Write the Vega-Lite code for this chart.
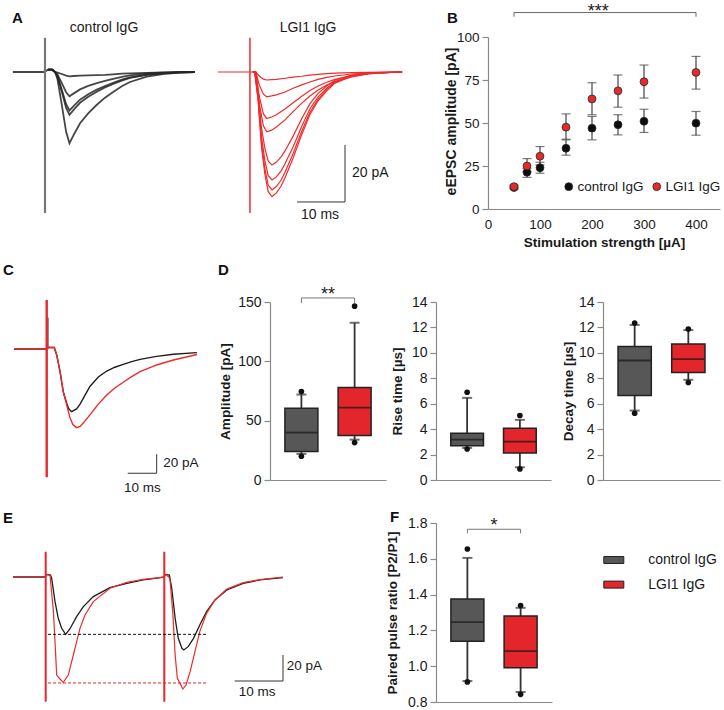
{
"$schema": "https://vega.github.io/schema/vega-lite/v6.json",
"padding": {"left": 0, "top": 3, "right": 0, "bottom": 0},
"config": {
  "font": "Liberation Sans",
  "view": {"stroke": null},
  "axis": {"grid": false, "domainColor": "#8a8a8a", "tickColor": "#8a8a8a", "labelColor": "#1a1a1a", "titleColor": "#1a1a1a", "labelFontSize": 14, "titleFontSize": 13.5, "titleFontWeight": "bold", "domainWidth": 1.2, "tickWidth": 1.2, "labelOverlap": false}
},
"columns": 6,
"spacing": 0,
"align": "each",
"bounds": "flush",
"resolve": {"scale": {"color": "independent"}, "legend": {"color": "independent"}},
"datasets": {
  "aCtrl": [
    {"k":1,"t":-6.7,"v":0},{"k":1,"t":-0.1,"v":0},{"k":1,"t":0.6,"v":0.8},{"k":1,"t":1.5,"v":0.8},{"k":1,"t":2.1,"v":0},{"k":1,"t":2.6,"v":-2.5},{"k":1,"t":3.5,"v":-11.5},{"k":1,"t":4.4,"v":-21},{"k":1,"t":5.1,"v":-25},{"k":1,"t":6.0,"v":-22},{"k":1,"t":7.3,"v":-18},{"k":1,"t":9.0,"v":-14.5},{"k":1,"t":10.8,"v":-11.5},{"k":1,"t":12.5,"v":-9},{"k":1,"t":14.2,"v":-7},{"k":1,"t":16.0,"v":-5},{"k":1,"t":17.7,"v":-3.5},{"k":1,"t":21.2,"v":-1.6},{"k":1,"t":24.6,"v":-0.7},{"k":1,"t":28.0,"v":-0.25},{"k":1,"t":31.25,"v":0},
    {"k":2,"t":0.6,"v":0.8},{"k":2,"t":1.5,"v":0.8},{"k":2,"t":2.1,"v":0},{"k":2,"t":2.6,"v":-1.5},{"k":2,"t":3.5,"v":-6.9},{"k":2,"t":4.4,"v":-12.6},{"k":2,"t":5.1,"v":-15},{"k":2,"t":6.0,"v":-13.2},{"k":2,"t":7.3,"v":-10.8},{"k":2,"t":9.0,"v":-8.7},{"k":2,"t":10.8,"v":-6.9},{"k":2,"t":12.5,"v":-5.4},{"k":2,"t":14.2,"v":-4.2},{"k":2,"t":16.0,"v":-3},{"k":2,"t":17.7,"v":-2.1},{"k":2,"t":21.2,"v":-1},{"k":2,"t":24.6,"v":-0.4},{"k":2,"t":28.0,"v":-0.15},{"k":2,"t":31.25,"v":0},
    {"k":3,"t":0.6,"v":0.8},{"k":3,"t":1.5,"v":0.8},{"k":3,"t":2.1,"v":0},{"k":3,"t":2.6,"v":-1.4},{"k":3,"t":3.5,"v":-6.2},{"k":3,"t":4.4,"v":-11.3},{"k":3,"t":5.1,"v":-13.5},{"k":3,"t":6.0,"v":-11.9},{"k":3,"t":7.3,"v":-9.7},{"k":3,"t":9.0,"v":-7.8},{"k":3,"t":10.8,"v":-6.2},{"k":3,"t":12.5,"v":-4.9},{"k":3,"t":14.2,"v":-3.8},{"k":3,"t":16.0,"v":-2.7},{"k":3,"t":17.7,"v":-1.9},{"k":3,"t":21.2,"v":-0.9},{"k":3,"t":24.6,"v":-0.4},{"k":3,"t":28.0,"v":-0.1},{"k":3,"t":31.25,"v":0},
    {"k":4,"t":0.6,"v":0.8},{"k":4,"t":1.5,"v":0.8},{"k":4,"t":2.1,"v":0},{"k":4,"t":2.6,"v":-0.9},{"k":4,"t":3.5,"v":-3.9},{"k":4,"t":4.4,"v":-7.1},{"k":4,"t":5.1,"v":-8.5},{"k":4,"t":6.0,"v":-7.5},{"k":4,"t":7.3,"v":-6.1},{"k":4,"t":9.0,"v":-4.9},{"k":4,"t":10.8,"v":-3.9},{"k":4,"t":12.5,"v":-3.1},{"k":4,"t":14.2,"v":-2.4},{"k":4,"t":16.0,"v":-1.7},{"k":4,"t":17.7,"v":-1.2},{"k":4,"t":21.2,"v":-0.5},{"k":4,"t":24.6,"v":-0.2},{"k":4,"t":28.0,"v":-0.1},{"k":4,"t":31.25,"v":0},
    {"k":5,"t":0.6,"v":0.8},{"k":5,"t":1.5,"v":0.8},{"k":5,"t":2.1,"v":0},{"k":5,"t":2.6,"v":-0.2},{"k":5,"t":3.5,"v":-0.7},{"k":5,"t":4.4,"v":-1.3},{"k":5,"t":5.1,"v":-1.5},{"k":5,"t":6.0,"v":-1.4},{"k":5,"t":7.3,"v":-1.3},{"k":5,"t":9.0,"v":-1.2},{"k":5,"t":10.8,"v":-1.1},{"k":5,"t":12.5,"v":-1},{"k":5,"t":14.2,"v":-0.8},{"k":5,"t":16.0,"v":-0.6},{"k":5,"t":17.7,"v":-0.5},{"k":5,"t":21.2,"v":-0.3},{"k":5,"t":24.6,"v":-0.1},{"k":5,"t":28.0,"v":0},{"k":5,"t":31.25,"v":0}
  ],
  "aLgi": [
    {"k":1,"t":36.0,"v":0},{"k":1,"t":42.6,"v":0},{"k":1,"t":43.3,"v":0},{"k":1,"t":43.9,"v":0},{"k":1,"t":44.7,"v":-1.5},{"k":1,"t":45.5,"v":-2.5},{"k":1,"t":46.2,"v":-2.8},{"k":1,"t":47.2,"v":-2.7},{"k":1,"t":48.2,"v":-2.6},{"k":1,"t":50.0,"v":-2.2},{"k":1,"t":51.7,"v":-1.8},{"k":1,"t":53.5,"v":-1.5},{"k":1,"t":55.2,"v":-1.1},{"k":1,"t":56.9,"v":-0.8},{"k":1,"t":58.7,"v":-0.6},{"k":1,"t":60.4,"v":-0.4},{"k":1,"t":63.9,"v":-0.2},{"k":1,"t":67.4,"v":-0.1},{"k":1,"t":70.7,"v":0},{"k":1,"t":74.4,"v":0},
    {"k":2,"t":43.3,"v":0},{"k":2,"t":43.9,"v":0},{"k":2,"t":44.7,"v":-4.8},{"k":2,"t":45.5,"v":-7.8},{"k":2,"t":46.2,"v":-8.7},{"k":2,"t":47.2,"v":-8.4},{"k":2,"t":48.2,"v":-8.0},{"k":2,"t":50.0,"v":-7.0},{"k":2,"t":51.7,"v":-5.7},{"k":2,"t":53.5,"v":-4.5},{"k":2,"t":55.2,"v":-3.5},{"k":2,"t":56.9,"v":-2.6},{"k":2,"t":58.7,"v":-1.9},{"k":2,"t":60.4,"v":-1.4},{"k":2,"t":63.9,"v":-0.7},{"k":2,"t":67.4,"v":-0.3},{"k":2,"t":70.7,"v":-0.1},{"k":2,"t":74.4,"v":0},
    {"k":3,"t":43.3,"v":0},{"k":3,"t":43.9,"v":0},{"k":3,"t":44.7,"v":-9.0},{"k":3,"t":45.5,"v":-14.7},{"k":3,"t":46.2,"v":-16.3},{"k":3,"t":47.2,"v":-15.8},{"k":3,"t":48.2,"v":-15.0},{"k":3,"t":50.0,"v":-13.0},{"k":3,"t":51.7,"v":-10.8},{"k":3,"t":53.5,"v":-8.5},{"k":3,"t":55.2,"v":-6.5},{"k":3,"t":56.9,"v":-4.9},{"k":3,"t":58.7,"v":-3.6},{"k":3,"t":60.4,"v":-2.6},{"k":3,"t":63.9,"v":-1.3},{"k":3,"t":67.4,"v":-0.6},{"k":3,"t":70.7,"v":-0.2},{"k":3,"t":74.4,"v":0},
    {"k":4,"t":43.3,"v":0},{"k":4,"t":43.9,"v":0},{"k":4,"t":44.7,"v":-11.6},{"k":4,"t":45.5,"v":-18.9},{"k":4,"t":46.2,"v":-21},{"k":4,"t":47.2,"v":-20.4},{"k":4,"t":48.2,"v":-19.3},{"k":4,"t":50.0,"v":-16.8},{"k":4,"t":51.7,"v":-13.9},{"k":4,"t":53.5,"v":-10.9},{"k":4,"t":55.2,"v":-8.4},{"k":4,"t":56.9,"v":-6.3},{"k":4,"t":58.7,"v":-4.6},{"k":4,"t":60.4,"v":-3.4},{"k":4,"t":63.9,"v":-1.7},{"k":4,"t":67.4,"v":-0.7},{"k":4,"t":70.7,"v":-0.2},{"k":4,"t":74.4,"v":0},
    {"k":5,"t":43.3,"v":0},{"k":5,"t":43.7,"v":0},{"k":5,"t":44.4,"v":-7.5},{"k":5,"t":45.1,"v":-19.6},{"k":5,"t":45.8,"v":-26.7},{"k":5,"t":46.5,"v":-31.3},{"k":5,"t":47.3,"v":-32.6},{"k":5,"t":48.2,"v":-31.6},{"k":5,"t":49.2,"v":-29.8},{"k":5,"t":50.0,"v":-27.7},{"k":5,"t":51.7,"v":-22.5},{"k":5,"t":53.5,"v":-16.3},{"k":5,"t":55.2,"v":-11.1},{"k":5,"t":56.9,"v":-7.5},{"k":5,"t":58.7,"v":-4.9},{"k":5,"t":60.4,"v":-2.9},{"k":5,"t":63.9,"v":-1.1},{"k":5,"t":67.4,"v":-0.4},{"k":5,"t":74.4,"v":0},
    {"k":6,"t":43.3,"v":0},{"k":6,"t":43.7,"v":0},{"k":6,"t":44.4,"v":-8.7},{"k":6,"t":45.1,"v":-22.7},{"k":6,"t":45.8,"v":-31.1},{"k":6,"t":46.5,"v":-36.4},{"k":6,"t":47.3,"v":-37.9},{"k":6,"t":48.2,"v":-36.8},{"k":6,"t":49.2,"v":-34.7},{"k":6,"t":50.0,"v":-32.2},{"k":6,"t":51.7,"v":-26.2},{"k":6,"t":53.5,"v":-19.0},{"k":6,"t":55.2,"v":-12.9},{"k":6,"t":56.9,"v":-8.7},{"k":6,"t":58.7,"v":-5.7},{"k":6,"t":60.4,"v":-3.4},{"k":6,"t":63.9,"v":-1.3},{"k":6,"t":67.4,"v":-0.4},{"k":6,"t":74.4,"v":0},
    {"k":7,"t":43.3,"v":0},{"k":7,"t":43.7,"v":0},{"k":7,"t":44.4,"v":-9.5},{"k":7,"t":45.1,"v":-24.8},{"k":7,"t":45.8,"v":-33.9},{"k":7,"t":46.5,"v":-39.7},{"k":7,"t":47.3,"v":-41.4},{"k":7,"t":48.2,"v":-40.2},{"k":7,"t":49.2,"v":-37.9},{"k":7,"t":50.0,"v":-35.2},{"k":7,"t":51.7,"v":-28.6},{"k":7,"t":53.5,"v":-20.7},{"k":7,"t":55.2,"v":-14.1},{"k":7,"t":56.9,"v":-9.5},{"k":7,"t":58.7,"v":-6.2},{"k":7,"t":60.4,"v":-3.7},{"k":7,"t":63.9,"v":-1.4},{"k":7,"t":67.4,"v":-0.5},{"k":7,"t":74.4,"v":0},
    {"k":8,"t":43.3,"v":0},{"k":8,"t":43.7,"v":0},{"k":8,"t":44.4,"v":-10.1},{"k":8,"t":45.1,"v":-26.2},{"k":8,"t":45.8,"v":-35.8},{"k":8,"t":46.5,"v":-42.0},{"k":8,"t":47.3,"v":-43.7},{"k":8,"t":48.2,"v":-42.4},{"k":8,"t":49.2,"v":-40.0},{"k":8,"t":50.0,"v":-37.1},{"k":8,"t":51.7,"v":-30.2},{"k":8,"t":53.5,"v":-21.9},{"k":8,"t":55.2,"v":-14.9},{"k":8,"t":56.9,"v":-10.1},{"k":8,"t":58.7,"v":-6.6},{"k":8,"t":60.4,"v":-3.9},{"k":8,"t":63.9,"v":-1.5},{"k":8,"t":67.4,"v":-0.5},{"k":8,"t":74.4,"v":0}
  ],
  "cBlk": [
    {"t":-11.3,"v":0},{"t":-0.1,"v":0},{"t":0.5,"v":1.5},{"t":2.6,"v":1.5},{"t":3.45,"v":-6.3},{"t":4.6,"v":-23.9},{"t":5.7,"v":-44.9},{"t":6.9,"v":-57},{"t":7.6,"v":-63},{"t":8.6,"v":-66},{"t":10.3,"v":-63},{"t":11.5,"v":-58},{"t":12.6,"v":-52},{"t":14.9,"v":-39.5},{"t":17.8,"v":-29.5},{"t":20.7,"v":-23.2},{"t":23.5,"v":-19.2},{"t":26.4,"v":-16.1},{"t":29.3,"v":-13.3},{"t":32.2,"v":-10.9},{"t":37.9,"v":-7.8},{"t":43.7,"v":-5.6},{"t":51.8,"v":-3.8}
  ],
  "cRed": [
    {"t":-11.3,"v":0},{"t":-0.1,"v":0},{"t":0.5,"v":1.5},{"t":2.6,"v":1.5},{"t":3.45,"v":-6.3},{"t":4.6,"v":-23.9},{"t":5.7,"v":-44.9},{"t":6.9,"v":-59},{"t":8.0,"v":-72},{"t":9.0,"v":-79.5},{"t":10.3,"v":-82.8},{"t":11.5,"v":-81.5},{"t":12.6,"v":-78},{"t":14.9,"v":-69.4},{"t":17.8,"v":-58},{"t":20.7,"v":-48.4},{"t":23.5,"v":-41},{"t":26.4,"v":-35},{"t":29.3,"v":-29},{"t":32.2,"v":-23.9},{"t":37.9,"v":-16.8},{"t":43.7,"v":-11.6},{"t":51.8,"v":-5.8}
  ],
  "eBlk": [
    {"t":-6.77,"v":0},{"t":-0.1,"v":0},{"t":0.3,"v":2},{"t":1.0,"v":1.5},{"t":1.24,"v":-1},{"t":1.93,"v":-19.2},{"t":2.6,"v":-32.2},{"t":3.3,"v":-40},{"t":4.14,"v":-44.7},{"t":5.0,"v":-40.5},{"t":6.4,"v":-30.9},{"t":7.8,"v":-23.1},{"t":9.86,"v":-15.3},{"t":13.3,"v":-8.3},{"t":16.8,"v":-4.9},{"t":20.2,"v":-2.3},{"t":23.5,"v":-0.6},{"t":24.45,"v":0},{"t":24.9,"v":2},{"t":25.6,"v":1.5},{"t":26.1,"v":-8.8},{"t":26.8,"v":-32.2},{"t":27.45,"v":-47.8},{"t":28.2,"v":-55.6},{"t":28.6,"v":-56.9},{"t":29.5,"v":-54.3},{"t":30.6,"v":-47.8},{"t":31.9,"v":-37.4},{"t":33.3,"v":-27},{"t":35.05,"v":-17.9},{"t":37.5,"v":-10.1},{"t":40.9,"v":-4.9},{"t":44.4,"v":-2.3},{"t":49.1,"v":-0.5}
  ],
  "eRed": [
    {"t":-6.77,"v":0},{"t":-0.1,"v":0},{"t":0.3,"v":2},{"t":0.9,"v":1},{"t":1.6,"v":-27},{"t":2.07,"v":-60.8},{"t":2.27,"v":-76.4},{"t":2.96,"v":-79.5},{"t":3.65,"v":-82.1},{"t":4.68,"v":-76.4},{"t":5.72,"v":-60.8},{"t":6.41,"v":-50.4},{"t":7.1,"v":-40},{"t":8.13,"v":-29.6},{"t":9.86,"v":-19.2},{"t":13.3,"v":-8.8},{"t":16.8,"v":-4.1},{"t":20.2,"v":-1.8},{"t":23.5,"v":-0.5},{"t":24.45,"v":0},{"t":24.9,"v":2},{"t":25.7,"v":-1},{"t":26.3,"v":-27},{"t":26.8,"v":-60.8},{"t":27.25,"v":-79},{"t":27.8,"v":-82.9},{"t":28.4,"v":-87.3},{"t":29.05,"v":-84.2},{"t":29.9,"v":-73.8},{"t":30.9,"v":-58.2},{"t":31.9,"v":-42.6},{"t":33.3,"v":-28.3},{"t":35.05,"v":-17.9},{"t":37.5,"v":-9.4},{"t":40.9,"v":-4.4},{"t":44.4,"v":-2},{"t":49.1,"v":0}
  ],
  "bData": [
    {"s":50,"g":"control IgG","m":12.5,"lo":11.5,"hi":13.5},
    {"s":75,"g":"control IgG","m":21.4,"lo":18.4,"hi":23.7},
    {"s":100,"g":"control IgG","m":24,"lo":20.8,"hi":27.2},
    {"s":150,"g":"control IgG","m":35.3,"lo":31.3,"hi":40.2},
    {"s":200,"g":"control IgG","m":47,"lo":40.2,"hi":53.8},
    {"s":250,"g":"control IgG","m":49,"lo":43.1,"hi":54.8},
    {"s":300,"g":"control IgG","m":51,"lo":44.5,"hi":58},
    {"s":400,"g":"control IgG","m":49.9,"lo":42.9,"hi":56.7},
    {"s":50,"g":"LGI1 IgG","m":13,"lo":12,"hi":14},
    {"s":75,"g":"LGI1 IgG","m":25,"lo":21.7,"hi":29.3},
    {"s":100,"g":"LGI1 IgG","m":30.7,"lo":25.6,"hi":36.3},
    {"s":150,"g":"LGI1 IgG","m":47.6,"lo":40.6,"hi":55.3},
    {"s":200,"g":"LGI1 IgG","m":64,"lo":54.8,"hi":73.4},
    {"s":250,"g":"LGI1 IgG","m":68.7,"lo":59.2,"hi":77.9},
    {"s":300,"g":"LGI1 IgG","m":74,"lo":64.5,"hi":83.7},
    {"s":400,"g":"LGI1 IgG","m":79.4,"lo":69.7,"hi":88.7}
  ],
  "boxAmp": [
    {"grp":"control IgG","mn":20,"lo":22,"q1":24,"md":40,"q3":60.5,"hi":72,"mx":74.5},
    {"grp":"LGI1 IgG","mn":31.5,"lo":34,"q1":37.5,"md":61,"q3":78,"hi":132.5,"mx":146.5}
  ],
  "boxRise": [
    {"grp":"control IgG","mn":2.44,"lo":2.52,"q1":2.7,"md":3.18,"q3":3.68,"hi":6.46,"mx":6.9},
    {"grp":"LGI1 IgG","mn":0.87,"lo":1.0,"q1":2.13,"md":3.02,"q3":4.07,"hi":4.73,"mx":5.07}
  ],
  "boxDecay": [
    {"grp":"control IgG","mn":5.25,"lo":5.46,"q1":6.65,"md":9.4,"q3":10.5,"hi":12.2,"mx":12.35},
    {"grp":"LGI1 IgG","mn":7.67,"lo":7.88,"q1":8.46,"md":9.5,"q3":10.7,"hi":11.8,"mx":11.87}
  ],
  "boxPPR": [
    {"grp":"control IgG","mn":0.912,"lo":0.917,"q1":1.14,"md":1.246,"q3":1.376,"hi":1.605,"mx":1.655},
    {"grp":"LGI1 IgG","mn":0.843,"lo":0.856,"q1":0.991,"md":1.084,"q3":1.28,"hi":1.326,"mx":1.339}
  ]
},
"concat": [
  {
    "width": 270, "height": 265,
    "encoding": {
      "x": {"field": "t", "type": "quantitative", "scale": {"domain": [-9.375, 46.875], "nice": false, "zero": false}, "axis": null},
      "y": {"field": "v", "type": "quantitative", "scale": {"domain": [-80.7, 12.28], "nice": false, "zero": false}, "axis": null}
    },
    "layer": [
      {"data": {"name": "aCtrl"}, "mark": {"type": "line", "color": "#262626", "strokeWidth": 1.8, "opacity": 0.85}, "encoding": {"detail": {"field": "k", "type": "nominal"}}},
      {"data": {"name": "aLgi"}, "mark": {"type": "line", "color": "#ef2b2b", "strokeWidth": 1.2}, "encoding": {"detail": {"field": "k", "type": "nominal"}}},
      {"data": {"values": [{"t": 0, "v": 12, "v2": -49.5}]}, "mark": {"type": "rule", "color": "#777777", "strokeWidth": 2.2}, "encoding": {"y2": {"field": "v2"}}},
      {"data": {"values": [{"t": 42.7, "v": 12, "v2": -49.5}]}, "mark": {"type": "rule", "color": "#ef2b2b", "strokeWidth": 1.5}, "encoding": {"y2": {"field": "v2"}}},
      {"data": {"values": [{"t": 52.5, "t2": 62.5, "v": -45.6, "v2": -45.6}, {"t": 62.5, "t2": 62.5, "v": -25.6, "v2": -45.6}]}, "mark": {"type": "rule", "color": "#333333", "strokeWidth": 1}, "encoding": {"x2": {"field": "t2"}, "y2": {"field": "v2"}}},
      {"data": {"values": [{"t": 12.3, "v": 15.44, "s": "control IgG"}, {"t": 54.8, "v": 15.44, "s": "LGI1 IgG"}, {"t": 57.29, "v": -50.18, "s": "10 ms"}]}, "mark": {"type": "text", "fontSize": 14, "align": "center", "baseline": "middle", "color": "#1a1a1a"}, "encoding": {"text": {"field": "s"}}},
      {"data": {"values": [{"t": 63.96, "v": -35.44, "s": "20 pA"}]}, "mark": {"type": "text", "fontSize": 14, "align": "left", "baseline": "middle", "color": "#1a1a1a"}, "encoding": {"text": {"field": "s"}}},
      {"data": {"values": [{"t": -6.875, "v": 17.19, "s": "A"}, {"t": 83.75, "v": 17.19, "s": "B"}]}, "mark": {"type": "text", "fontSize": 15, "fontWeight": "bold", "align": "left", "baseline": "alphabetic", "color": "#111111"}, "encoding": {"text": {"field": "s"}}}
    ]
  },
  {"width": 1, "height": 1, "data": {"values": [{"a": 0}]}, "mark": "text", "encoding": {"text": {"value": ""}}},
  {"width": 1, "height": 1, "data": {"values": [{"a": 0}]}, "mark": "text", "encoding": {"text": {"value": ""}}},
  {
    "width": 116, "height": 172,
    "layer": [
      {"data": {"name": "bData"}, "mark": {"type": "rule", "color": "#444444", "strokeWidth": 1.2},
       "encoding": {
         "x": {"field": "s", "type": "quantitative", "title": "Stimulation strength [µA]", "scale": {"domain": [0, 446.15], "range": [52, 284], "nice": false, "zero": true}, "axis": {"values": [0, 100, 200, 300, 400], "tickCount": 20, "format": "d", "ticks": false, "labelPadding": 8, "labelFlush": false, "labelFontSize": 13.5, "titleX": 168, "titleY": 33, "titleBaseline": "middle", "titleAlign": "center"}},
         "y": {"field": "lo", "type": "quantitative", "title": "eEPSC amplitude [pA]", "scale": {"domain": [0, 100], "nice": false}, "axis": {"offset": -52, "values": [0, 25, 50, 75, 100], "tickCount": 20, "format": "d", "tickSize": 6, "labelPadding": 3, "labelFontSize": 13.5, "titleFontSize": 14, "titleAngle": 270, "titleX": -36.3, "titleY": 84, "titleAlign": "center", "titleBaseline": "middle"}},
         "y2": {"field": "hi"}
       }},
      {"data": {"name": "bData"}, "mark": {"type": "tick", "orient": "horizontal", "size": 9, "thickness": 1.2, "color": "#444444"},
       "encoding": {"x": {"field": "s", "type": "quantitative", "title": "Stimulation strength [µA]"}, "y": {"field": "lo", "type": "quantitative", "title": "eEPSC amplitude [pA]"}}},
      {"data": {"name": "bData"}, "mark": {"type": "tick", "orient": "horizontal", "size": 9, "thickness": 1.2, "color": "#444444"},
       "encoding": {"x": {"field": "s", "type": "quantitative", "title": "Stimulation strength [µA]"}, "y": {"field": "hi", "type": "quantitative", "title": "eEPSC amplitude [pA]"}}},
      {"data": {"name": "bData"}, "mark": {"type": "point", "filled": true, "size": 62, "stroke": "#2a2a2a", "strokeWidth": 0.8, "opacity": 1},
       "encoding": {
         "x": {"field": "s", "type": "quantitative", "title": "Stimulation strength [µA]"},
         "y": {"field": "m", "type": "quantitative", "title": "eEPSC amplitude [pA]"},
         "color": {"field": "g", "type": "nominal", "scale": {"domain": ["control IgG", "LGI1 IgG"], "range": ["#0d0d0d", "#e32b2e"]},
           "legend": {"orient": "none", "legendX": 126, "legendY": 142.5, "direction": "horizontal", "title": null, "labelFontSize": 13.5, "symbolSize": 62, "labelOffset": 2, "columnPadding": 6, "symbolStrokeColor": "#2a2a2a", "symbolStrokeWidth": 0.8, "labelColor": "#1a1a1a"}}
       }},
      {"data": {"values": [{"s": 50, "v": 111.8, "o": 1}, {"s": 50, "v": 114.2, "o": 2}, {"s": 400, "v": 114.2, "o": 3}, {"s": 400, "v": 111.8, "o": 4}]}, "mark": {"type": "line", "color": "#666666", "strokeWidth": 1},
       "encoding": {"x": {"field": "s", "type": "quantitative", "title": "Stimulation strength [µA]"}, "y": {"field": "v", "type": "quantitative", "title": "eEPSC amplitude [pA]"}, "order": {"field": "o"}}},
      {"data": {"values": [{"s": 212, "v": 111.6, "txt": "***"}]}, "mark": {"type": "text", "fontSize": 18, "align": "center", "baseline": "alphabetic", "color": "#1a1a1a"},
       "encoding": {"x": {"field": "s", "type": "quantitative", "title": "Stimulation strength [µA]"}, "y": {"field": "v", "type": "quantitative", "title": "eEPSC amplitude [pA]"}, "text": {"field": "txt"}}}
    ]
  },
  {"width": 1, "height": 1, "data": {"values": [{"a": 0}]}, "mark": "text", "encoding": {"text": {"value": ""}}},
  {"width": 1, "height": 1, "data": {"values": [{"a": 0}]}, "mark": "text", "encoding": {"text": {"value": ""}}},
  {
    "width": 270, "height": 221,
    "encoding": {
      "x": {"field": "t", "type": "quantitative", "scale": {"domain": [-16.103, 77.0], "nice": false, "zero": false}, "axis": null},
      "y": {"field": "v", "type": "quantitative", "scale": {"domain": [-183.16, 49.47], "nice": false, "zero": false}, "axis": null}
    },
    "layer": [
      {"data": {"name": "cBlk"}, "mark": {"type": "line", "color": "#1e1e1e", "strokeWidth": 1.4}},
      {"data": {"values": [{"t": 0.45, "v": 33, "v2": 0}]}, "mark": {"type": "rule", "color": "#222222", "strokeWidth": 1}, "encoding": {"y2": {"field": "v2"}}},
      {"data": {"name": "cRed"}, "mark": {"type": "line", "color": "#ee2a2a", "strokeWidth": 1.4}},
      {"data": {"values": [{"t": 0, "v": 51.6, "v2": -135}]}, "mark": {"type": "rule", "color": "#e8262b", "strokeWidth": 2.4}, "encoding": {"y2": {"field": "v2"}}},
      {"data": {"values": [{"t": 27.93, "t2": 37.93, "v": -130.8, "v2": -130.8}, {"t": 37.93, "t2": 37.93, "v": -110.8, "v2": -130.8}]}, "mark": {"type": "rule", "color": "#333333", "strokeWidth": 1}, "encoding": {"x2": {"field": "t2"}, "y2": {"field": "v2"}}},
      {"data": {"values": [{"t": 33.0, "v": -146.3, "s": "10 ms"}]}, "mark": {"type": "text", "fontSize": 13.5, "align": "center", "baseline": "middle", "color": "#1a1a1a"}, "encoding": {"text": {"field": "s"}}},
      {"data": {"values": [{"t": 40.2, "v": -119.5, "s": "20 pA"}]}, "mark": {"type": "text", "fontSize": 13.5, "align": "left", "baseline": "middle", "color": "#1a1a1a"}, "encoding": {"text": {"field": "s"}}},
      {"data": {"values": [{"t": -15.07, "v": 77.9, "s": "C"}, {"t": 59.07, "v": 77.9, "s": "D"}]}, "mark": {"type": "text", "fontSize": 15, "fontWeight": "bold", "align": "left", "baseline": "alphabetic", "color": "#111111"}, "encoding": {"text": {"field": "s"}}}
    ]
  },
  {
    "width": 116, "height": 178,
    "data": {"name": "boxAmp"},
    "encoding": {"x": {"field": "grp", "type": "nominal", "sort": null, "scale": {"domain": ["control IgG", "LGI1 IgG"], "paddingInner": 0.38, "paddingOuter": 0.28}, "axis": {"labels": false, "ticks": false, "title": null}}},
    "layer": [
      {"mark": {"type": "rule", "color": "#333333", "strokeWidth": 1.8}, "encoding": {"y": {"field": "lo", "type": "quantitative", "title": "Amplitude [pA]", "scale": {"domain": [0, 150], "nice": false}, "axis": {"values": [0, 50, 100, 150], "tickCount": 20, "format": "d", "tickSize": 6, "labelPadding": 3, "titleAngle": 270, "titleX": -45, "titleY": 89, "titleAlign": "center", "titleBaseline": "middle"}}, "y2": {"field": "hi"}}},
      {"mark": {"type": "bar", "stroke": "#222222", "strokeWidth": 1.5}, "encoding": {"y": {"field": "q1", "type": "quantitative", "title": "Amplitude [pA]"}, "y2": {"field": "q3"}, "color": {"field": "grp", "type": "nominal", "scale": {"domain": ["control IgG", "LGI1 IgG"], "range": ["#575757", "#e3262c"]}, "legend": null}}},
      {"mark": {"type": "tick", "orient": "horizontal", "size": 32, "thickness": 1.8, "color": "#151515"}, "encoding": {"y": {"field": "md", "type": "quantitative", "title": "Amplitude [pA]"}}},
      {"mark": {"type": "tick", "orient": "horizontal", "size": 10, "thickness": 2, "color": "#333333"}, "encoding": {"y": {"field": "lo", "type": "quantitative", "title": "Amplitude [pA]"}}},
      {"mark": {"type": "tick", "orient": "horizontal", "size": 10, "thickness": 2, "color": "#333333"}, "encoding": {"y": {"field": "hi", "type": "quantitative", "title": "Amplitude [pA]"}}},
      {"mark": {"type": "point", "filled": true, "size": 32, "color": "#111111", "opacity": 1}, "encoding": {"y": {"field": "mn", "type": "quantitative", "title": "Amplitude [pA]"}}},
      {"mark": {"type": "point", "filled": true, "size": 32, "color": "#111111", "opacity": 1}, "encoding": {"y": {"field": "mx", "type": "quantitative", "title": "Amplitude [pA]"}}},
      {"data": {"values": [{"grp": "control IgG", "v": 149.2, "o": 1}, {"grp": "control IgG", "v": 153.4, "o": 2}, {"grp": "LGI1 IgG", "v": 153.4, "o": 3}, {"grp": "LGI1 IgG", "v": 149.2, "o": 4}]}, "mark": {"type": "line", "color": "#777777", "strokeWidth": 1}, "encoding": {"y": {"field": "v", "type": "quantitative", "title": "Amplitude [pA]"}, "order": {"field": "o"}}},
      {"data": {"values": [{"grp": "control IgG", "v": 151.3, "txt": "**"}]}, "mark": {"type": "text", "fontSize": 18, "dx": 26.6, "align": "center", "baseline": "alphabetic", "color": "#1a1a1a"}, "encoding": {"y": {"field": "v", "type": "quantitative", "title": "Amplitude [pA]"}, "text": {"field": "txt"}}}
    ]
  },
  {"width": 50, "height": 1, "data": {"values": [{"a": 0}]}, "mark": "text", "encoding": {"text": {"value": ""}}},
  {
    "width": 115, "height": 178,
    "data": {"name": "boxRise"},
    "encoding": {"x": {"field": "grp", "type": "nominal", "sort": null, "scale": {"domain": ["control IgG", "LGI1 IgG"], "paddingInner": 0.38, "paddingOuter": 0.28}, "axis": {"labels": false, "ticks": false, "title": null}}},
    "layer": [
      {"mark": {"type": "rule", "color": "#333333", "strokeWidth": 1.8}, "encoding": {"y": {"field": "lo", "type": "quantitative", "title": "Rise time [µs]", "scale": {"domain": [0, 14], "nice": false}, "axis": {"values": [0, 2, 4, 6, 8, 10, 12, 14], "tickCount": 20, "format": "d", "tickSize": 6, "labelPadding": 3, "titleAngle": 270, "titleX": -38.3, "titleY": 89, "titleAlign": "center", "titleBaseline": "middle"}}, "y2": {"field": "hi"}}},
      {"mark": {"type": "bar", "stroke": "#222222", "strokeWidth": 1.5}, "encoding": {"y": {"field": "q1", "type": "quantitative", "title": "Rise time [µs]"}, "y2": {"field": "q3"}, "color": {"field": "grp", "type": "nominal", "scale": {"domain": ["control IgG", "LGI1 IgG"], "range": ["#575757", "#e3262c"]}, "legend": null}}},
      {"mark": {"type": "tick", "orient": "horizontal", "size": 32, "thickness": 1.8, "color": "#151515"}, "encoding": {"y": {"field": "md", "type": "quantitative", "title": "Rise time [µs]"}}},
      {"mark": {"type": "tick", "orient": "horizontal", "size": 10, "thickness": 2, "color": "#333333"}, "encoding": {"y": {"field": "lo", "type": "quantitative", "title": "Rise time [µs]"}}},
      {"mark": {"type": "tick", "orient": "horizontal", "size": 10, "thickness": 2, "color": "#333333"}, "encoding": {"y": {"field": "hi", "type": "quantitative", "title": "Rise time [µs]"}}},
      {"mark": {"type": "point", "filled": true, "size": 32, "color": "#111111", "opacity": 1}, "encoding": {"y": {"field": "mn", "type": "quantitative", "title": "Rise time [µs]"}}},
      {"mark": {"type": "point", "filled": true, "size": 32, "color": "#111111", "opacity": 1}, "encoding": {"y": {"field": "mx", "type": "quantitative", "title": "Rise time [µs]"}}}
    ]
  },
  {"width": 51, "height": 1, "data": {"values": [{"a": 0}]}, "mark": "text", "encoding": {"text": {"value": ""}}},
  {
    "width": 117, "height": 178,
    "data": {"name": "boxDecay"},
    "encoding": {"x": {"field": "grp", "type": "nominal", "sort": null, "scale": {"domain": ["control IgG", "LGI1 IgG"], "paddingInner": 0.38, "paddingOuter": 0.28}, "axis": {"labels": false, "ticks": false, "title": null}}},
    "layer": [
      {"mark": {"type": "rule", "color": "#333333", "strokeWidth": 1.8}, "encoding": {"y": {"field": "lo", "type": "quantitative", "title": "Decay time [µs]", "scale": {"domain": [0, 14], "nice": false}, "axis": {"values": [0, 2, 4, 6, 8, 10, 12, 14], "tickCount": 20, "format": "d", "tickSize": 6, "labelPadding": 3, "titleAngle": 270, "titleX": -35, "titleY": 89, "titleAlign": "center", "titleBaseline": "middle"}}, "y2": {"field": "hi"}}},
      {"mark": {"type": "bar", "stroke": "#222222", "strokeWidth": 1.5}, "encoding": {"y": {"field": "q1", "type": "quantitative", "title": "Decay time [µs]"}, "y2": {"field": "q3"}, "color": {"field": "grp", "type": "nominal", "scale": {"domain": ["control IgG", "LGI1 IgG"], "range": ["#575757", "#e3262c"]}, "legend": null}}},
      {"mark": {"type": "tick", "orient": "horizontal", "size": 32, "thickness": 1.8, "color": "#151515"}, "encoding": {"y": {"field": "md", "type": "quantitative", "title": "Decay time [µs]"}}},
      {"mark": {"type": "tick", "orient": "horizontal", "size": 10, "thickness": 2, "color": "#333333"}, "encoding": {"y": {"field": "lo", "type": "quantitative", "title": "Decay time [µs]"}}},
      {"mark": {"type": "tick", "orient": "horizontal", "size": 10, "thickness": 2, "color": "#333333"}, "encoding": {"y": {"field": "hi", "type": "quantitative", "title": "Decay time [µs]"}}},
      {"mark": {"type": "point", "filled": true, "size": 32, "color": "#111111", "opacity": 1}, "encoding": {"y": {"field": "mn", "type": "quantitative", "title": "Decay time [µs]"}}},
      {"mark": {"type": "point", "filled": true, "size": 32, "color": "#111111", "opacity": 1}, "encoding": {"y": {"field": "mx", "type": "quantitative", "title": "Decay time [µs]"}}}
    ]
  },
  {
    "width": 270, "height": 187,
    "encoding": {
      "x": {"field": "t", "type": "quantitative", "scale": {"domain": [-9.462, 46.439], "nice": false, "zero": false}, "axis": null},
      "y": {"field": "v", "type": "quantitative", "scale": {"domain": [-103.66, 42.09], "nice": false, "zero": false}, "axis": null}
    },
    "layer": [
      {"data": {"name": "eBlk"}, "mark": {"type": "line", "color": "#1e1e1e", "strokeWidth": 1.3}},
      {"data": {"name": "eRed"}, "mark": {"type": "line", "color": "#ee2a2a", "strokeWidth": 1.2}},
      {"data": {"values": [{"t": 0, "v": 19.7, "v2": -97.2}, {"t": 24.55, "v": 19.7, "v2": -97.2}]}, "mark": {"type": "rule", "color": "#e8262b", "strokeWidth": 2}, "encoding": {"y2": {"field": "v2"}}},
      {"data": {"values": [{"t": 0.48, "t2": 33.6, "v": -44.7}]}, "mark": {"type": "rule", "color": "#111111", "strokeWidth": 1, "strokeDash": [3, 2]}, "encoding": {"x2": {"field": "t2"}}},
      {"data": {"values": [{"t": 0.48, "t2": 33.6, "v": -82.6}]}, "mark": {"type": "rule", "color": "#e8262b", "strokeWidth": 1, "strokeDash": [3, 2]}, "encoding": {"x2": {"field": "t2"}}},
      {"data": {"values": [{"t": 39.13, "t2": 49.13, "v": -81.06, "v2": -81.06}, {"t": 49.13, "t2": 49.13, "v": -60.8, "v2": -81.06}]}, "mark": {"type": "rule", "color": "#333333", "strokeWidth": 1}, "encoding": {"x2": {"field": "t2"}, "y2": {"field": "v2"}}},
      {"data": {"values": [{"t": 43.79, "v": -90.0, "s": "10 ms"}]}, "mark": {"type": "text", "fontSize": 13.5, "align": "center", "baseline": "middle", "color": "#1a1a1a"}, "encoding": {"text": {"field": "s"}}},
      {"data": {"values": [{"t": 49.9, "v": -69.1, "s": "20 pA"}]}, "mark": {"type": "text", "fontSize": 13.5, "align": "left", "baseline": "middle", "color": "#1a1a1a"}, "encoding": {"text": {"field": "s"}}},
      {"data": {"values": [{"t": -8.84, "v": 42.09, "s": "E"}, {"t": 71.28, "v": 42.87, "s": "F"}]}, "mark": {"type": "text", "fontSize": 15, "fontWeight": "bold", "align": "left", "baseline": "alphabetic", "color": "#111111"}, "encoding": {"text": {"field": "s"}}}
    ]
  },
  {"width": 1, "height": 1, "data": {"values": [{"a": 0}]}, "mark": "text", "encoding": {"text": {"value": ""}}},
  {"width": 1, "height": 1, "data": {"values": [{"a": 0}]}, "mark": "text", "encoding": {"text": {"value": ""}}},
  {
    "width": 116, "height": 179,
    "data": {"name": "boxPPR"},
    "encoding": {"x": {"field": "grp", "type": "nominal", "sort": null, "scale": {"domain": ["control IgG", "LGI1 IgG"], "paddingInner": 0.38, "paddingOuter": 0.28}, "axis": {"labels": false, "ticks": false, "title": null}}},
    "layer": [
      {"mark": {"type": "rule", "color": "#333333", "strokeWidth": 1.8}, "encoding": {"y": {"field": "lo", "type": "quantitative", "title": "Paired pulse ratio [P2/P1]", "scale": {"domain": [0.8, 1.8], "nice": false, "zero": false}, "axis": {"values": [0.8, 1.0, 1.2, 1.4, 1.6, 1.8], "tickCount": 20, "format": ".1f", "tickSize": 6, "labelPadding": 3, "titleAngle": 270, "titleX": -43.4, "titleY": 89.5, "titleAlign": "center", "titleBaseline": "middle"}}, "y2": {"field": "hi"}}},
      {"mark": {"type": "bar", "stroke": "#222222", "strokeWidth": 1.5}, "encoding": {"y": {"field": "q1", "type": "quantitative", "title": "Paired pulse ratio [P2/P1]"}, "y2": {"field": "q3"}, "color": {"field": "grp", "type": "nominal", "scale": {"domain": ["control IgG", "LGI1 IgG"], "range": ["#575757", "#e3262c"]},
        "legend": {"orient": "none", "legendX": 167.3, "legendY": 26.5, "title": null, "symbolType": "M-1,-0.35L1,-0.35L1,0.35L-1,0.35Z", "symbolSize": 400, "symbolStrokeColor": "#222222", "symbolStrokeWidth": 1, "labelFontSize": 14, "labelOffset": 24, "rowPadding": 6.6, "labelColor": "#1a1a1a"}}}},
      {"mark": {"type": "tick", "orient": "horizontal", "size": 32, "thickness": 1.8, "color": "#151515"}, "encoding": {"y": {"field": "md", "type": "quantitative", "title": "Paired pulse ratio [P2/P1]"}}},
      {"mark": {"type": "tick", "orient": "horizontal", "size": 10, "thickness": 2, "color": "#333333"}, "encoding": {"y": {"field": "lo", "type": "quantitative", "title": "Paired pulse ratio [P2/P1]"}}},
      {"mark": {"type": "tick", "orient": "horizontal", "size": 10, "thickness": 2, "color": "#333333"}, "encoding": {"y": {"field": "hi", "type": "quantitative", "title": "Paired pulse ratio [P2/P1]"}}},
      {"mark": {"type": "point", "filled": true, "size": 32, "color": "#111111", "opacity": 1}, "encoding": {"y": {"field": "mn", "type": "quantitative", "title": "Paired pulse ratio [P2/P1]"}}},
      {"mark": {"type": "point", "filled": true, "size": 32, "color": "#111111", "opacity": 1}, "encoding": {"y": {"field": "mx", "type": "quantitative", "title": "Paired pulse ratio [P2/P1]"}}},
      {"data": {"values": [{"grp": "control IgG", "v": 1.742, "o": 1}, {"grp": "control IgG", "v": 1.765, "o": 2}, {"grp": "LGI1 IgG", "v": 1.765, "o": 3}, {"grp": "LGI1 IgG", "v": 1.742, "o": 4}]}, "mark": {"type": "line", "color": "#777777", "strokeWidth": 1}, "encoding": {"y": {"field": "v", "type": "quantitative", "title": "Paired pulse ratio [P2/P1]"}, "order": {"field": "o"}}},
      {"data": {"values": [{"grp": "control IgG", "v": 1.755, "txt": "*"}]}, "mark": {"type": "text", "fontSize": 18, "dx": 26.6, "align": "center", "baseline": "alphabetic", "color": "#1a1a1a"}, "encoding": {"y": {"field": "v", "type": "quantitative", "title": "Paired pulse ratio [P2/P1]"}, "text": {"field": "txt"}}}
    ]
  },
  {"width": 1, "height": 1, "data": {"values": [{"a": 0}]}, "mark": "text", "encoding": {"text": {"value": ""}}},
  {"width": 1, "height": 1, "data": {"values": [{"a": 0}]}, "mark": "text", "encoding": {"text": {"value": ""}}}
]
}
